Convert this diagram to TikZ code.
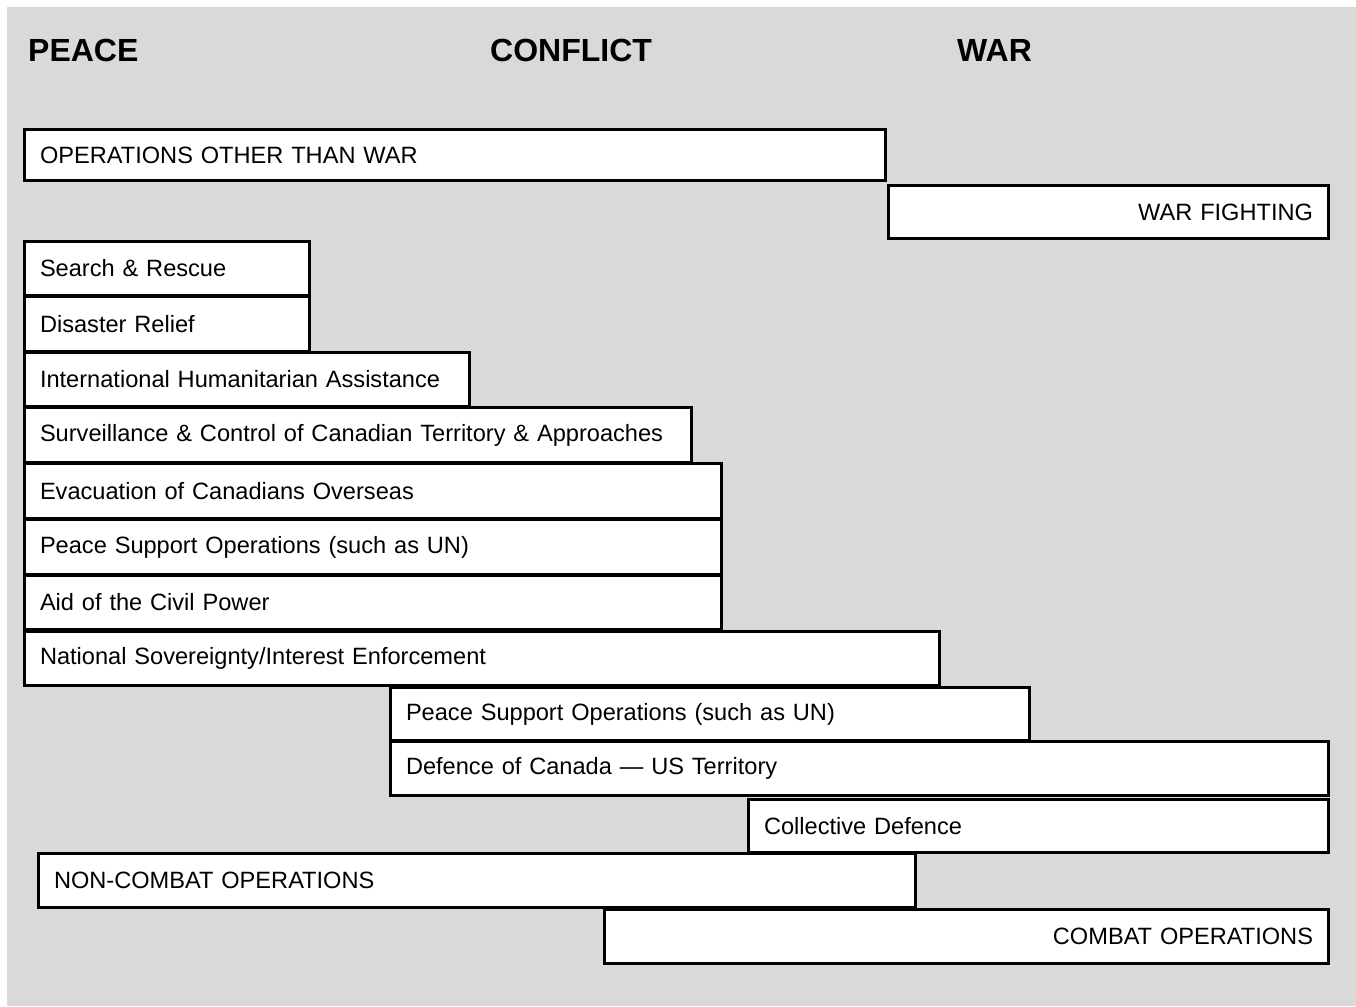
\documentclass[tikz,border=0pt]{standalone}
\usepackage{fontspec}
\setmainfont{Liberation Sans}
\definecolor{bgcol}{HTML}{D9D9D9}
\tikzset{
  box/.style={draw=black, line width=3pt, fill=white, anchor=north west, outer sep=0pt,
    inner xsep=15.5pt, inner ysep=0pt, font=\fontsize{23.6}{28}\selectfont},
  title/.style={anchor=base west, inner sep=0pt, font=\fontsize{32}{36}\selectfont\bfseries}
}
\newcommand\obox[7]{%
  \pgfmathsetmacro\bw{#4-#2-34}%
  \pgfmathsetmacro\bh{#5-#3-3}%
  \node[box, text width=\bw pt, minimum height=\bh pt, align=#6] (#1) at ({(#2+1.5)*1pt},{-(#3+1.5)*1pt}) {#7};%
}
\begin{document}
\begin{tikzpicture}
\useasboundingbox (0,0) rectangle (1356pt,-1006pt);
\fill[bgcol] (7pt,-7pt) rectangle (1356pt,-1006pt);
\node[title] (peace) at (28pt,-62pt) {PEACE};
\node[title] (conflict) at (490pt,-62pt) {CONFLICT};
\node[title] (war) at (957pt,-62pt) {WAR};
\obox{ootw}{23}{128}{887}{182}{left}{OPERATIONS OTHER THAN WAR}
\obox{wf}{887}{184}{1330}{240}{right}{WAR FIGHTING}
\obox{sar}{23}{240}{311}{297}{left}{Search \& Rescue}
\obox{dr}{23}{295}{311}{353}{left}{Disaster Relief}
\obox{iha}{23}{351}{471}{408}{left}{International Humanitarian Assistance}
\obox{sc}{23}{406}{693}{464}{left}{Surveillance \& Control of Canadian Territory \& Approaches}
\obox{ev}{23}{462}{723}{520}{left}{Evacuation of Canadians Overseas}
\obox{pso}{23}{518}{723}{576}{left}{Peace Support Operations (such as UN)}
\obox{acp}{23}{574}{723}{631}{left}{Aid of the Civil Power}
\obox{nse}{23}{630}{941}{687}{left}{National Sovereignty/Interest Enforcement}
\obox{psob}{389}{686}{1031}{742}{left}{Peace Support Operations (such as UN)}
\obox{dc}{389}{740}{1330}{797}{left}{Defence of Canada — US Territory}
\obox{cd}{747}{798}{1330}{854}{left}{Collective Defence}
\obox{nco}{37}{852}{917}{909}{left}{NON-COMBAT OPERATIONS}
\obox{co}{603}{908}{1330}{965}{right}{COMBAT OPERATIONS}
\end{tikzpicture}
\end{document}
